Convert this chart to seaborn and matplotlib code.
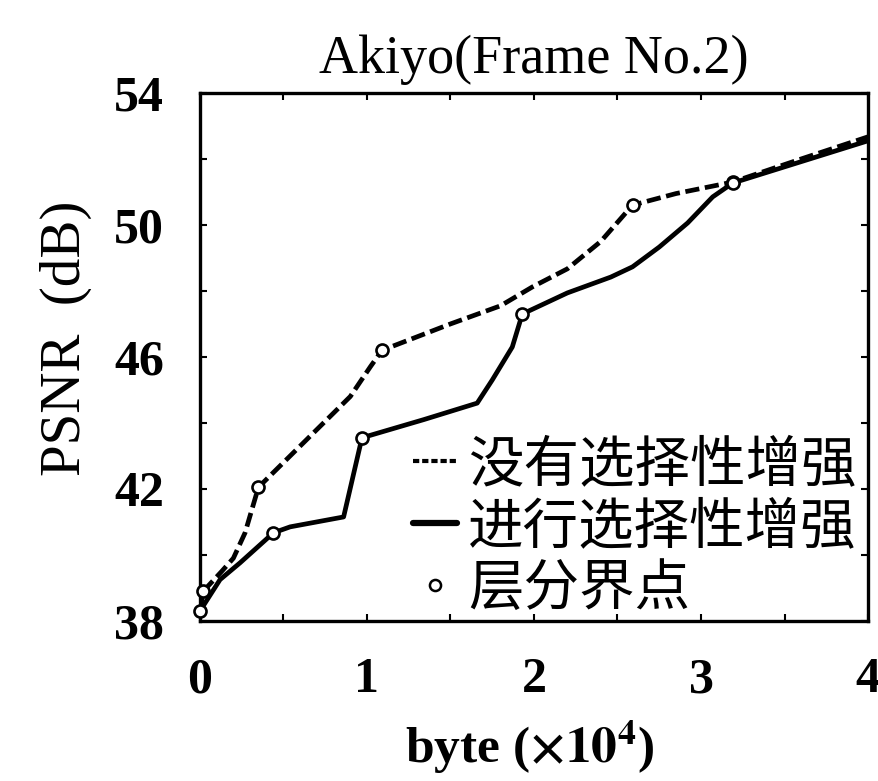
import matplotlib
matplotlib.use('Agg')
import matplotlib.pyplot as plt
import seaborn as sns
from matplotlib.lines import Line2D
from matplotlib.font_manager import FontProperties

# PSNR vs. byte (x10^4), Akiyo frame 2
# without selective enhancement (dashed)
x_plain = [0.0, 0.02, 0.13, 0.20, 0.27, 0.35, 0.62, 0.90, 1.02, 1.09, 1.50, 1.80,
           1.99, 2.20, 2.40, 2.59, 2.85, 3.19, 3.60, 4.0]
psnr_plain = [38.3, 38.9, 39.5, 39.9, 40.67, 42.05, 43.4, 44.8, 45.7, 46.2, 47.0, 47.55,
              48.12, 48.67, 49.5, 50.6, 50.95, 51.3, 52.0, 52.67]

# with selective enhancement (solid)
x_sel = [0.0, 0.12, 0.24, 0.44, 0.54, 0.86, 0.97, 1.34, 1.66, 1.75, 1.87, 1.93,
         2.20, 2.46, 2.59, 2.75, 2.92, 3.07, 3.19, 4.0]
psnr_sel = [38.3, 39.25, 39.76, 40.67, 40.85, 41.15, 43.55, 44.1, 44.6, 45.3, 46.3, 47.3,
            47.94, 48.42, 48.73, 49.33, 50.06, 50.85, 51.27, 52.55]

# layer boundary points
bx_plain = [0.02, 0.35, 1.09, 2.59, 3.19]
by_plain = [38.9, 42.05, 46.2, 50.6, 51.3]
bx_sel = [0.0, 0.44, 0.97, 1.93, 3.19]
by_sel = [38.3, 40.67, 43.55, 47.3, 51.27]

labels = ['没有选择性增强', '进行选择性增强', '层分界点']

sns.set_style('ticks')
plt.rcParams['font.family'] = ['Liberation Serif', 'Noto Sans CJK SC']
plt.rcParams['mathtext.fontset'] = 'stix'
plt.rcParams['text.color'] = 'black'
plt.rcParams['axes.labelcolor'] = 'black'
plt.rcParams['xtick.color'] = 'black'
plt.rcParams['ytick.color'] = 'black'
plt.rcParams['axes.edgecolor'] = 'black'

fig = plt.figure(figsize=(8.79, 7.81), dpi=100)
ax = fig.add_axes([0.2275, 0.205, 0.76, 0.676])

dash = (0, (3.0, 1.2))
sns.lineplot(x=x_plain, y=psnr_plain, ax=ax, color='k', lw=3.4, linestyle=dash, estimator=None)
sns.lineplot(x=x_sel, y=psnr_sel, ax=ax, color='k', lw=3.4, estimator=None)
sns.scatterplot(x=bx_plain + bx_sel, y=by_plain + by_sel, ax=ax, marker='o', s=75,
                facecolor='white', edgecolor='k', linewidth=1.9, zorder=3, clip_on=False)

ax.set_xlim(0, 4)
ax.set_ylim(38, 54)
xt = [i * 0.5 for i in range(9)]
ax.set_xticks(xt)
ax.set_xticklabels([str(int(v)) if v == int(v) else '' for v in xt])
ax.set_yticks(list(range(38, 55, 2)))
ax.set_yticklabels([str(v) if v % 4 == 2 else '' for v in range(38, 55, 2)])
ax.tick_params(direction='in', length=5, width=1.5, top=True, right=True, pad=26, labelsize=36)
for t in ax.get_xticklabels() + ax.get_yticklabels():
    t.set_fontweight('bold')
for s in ax.spines.values():
    s.set_linewidth(2.4)

ax.set_title('Akiyo(Frame No.2)', fontsize=39, pad=14)
ax.set_xlabel(r'byte ($\mathbf{\times 10^4}$)', fontsize=37, fontweight='bold')
ax.xaxis.set_label_coords(0.493, -0.185)
ax.xaxis.label.set_va('top')
ax.set_ylabel('PSNR  (dB)', fontsize=41)
ax.yaxis.set_label_coords(-0.162, 0.535)

handles = [
    Line2D([], [], color='k', lw=3, linestyle=(0, (1.5, 0.7))),
    Line2D([], [], color='k', lw=4.5),
    Line2D([], [], color='k', lw=0, marker='o', ms=8, mfc='white', mew=1.8),
]
ax.legend(handles, labels, loc='lower right', bbox_to_anchor=(1.0, -0.015),
          frameon=False, prop=FontProperties(family='Noto Sans CJK SC', size=40),
          handlelength=0.8, handletextpad=0.2, labelspacing=0.08, borderpad=0.1,
          borderaxespad=0.1)

fig.savefig('out.png', dpi=100)
